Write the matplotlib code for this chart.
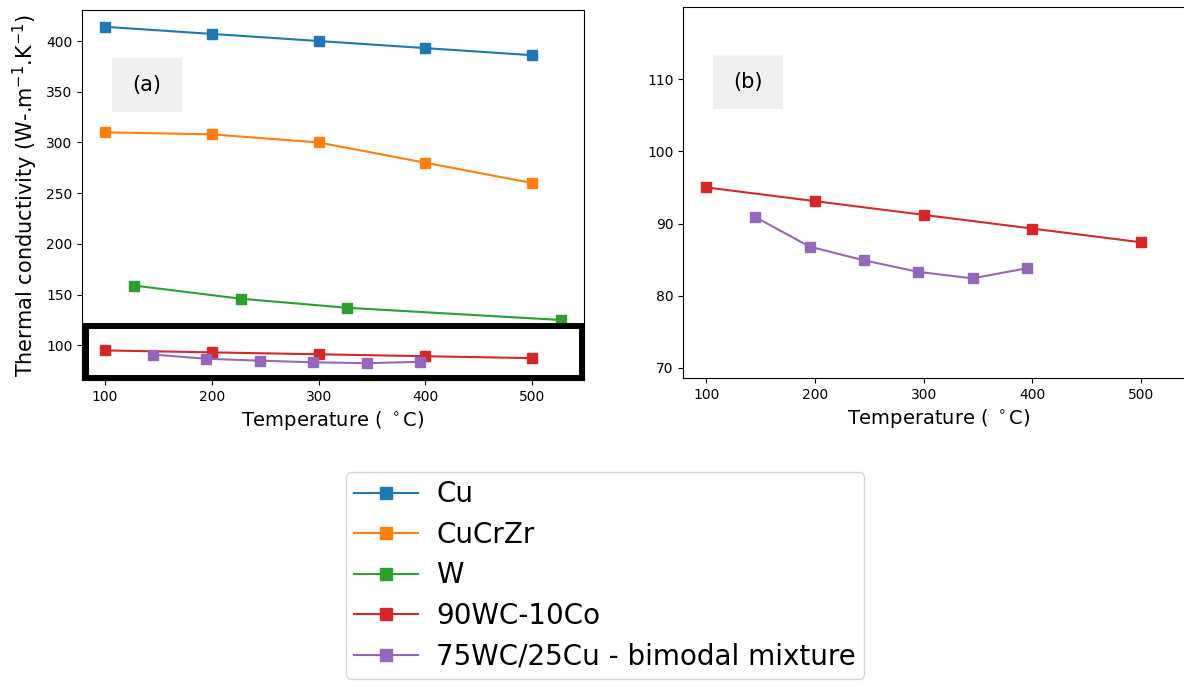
import matplotlib
matplotlib.use("Agg")
import matplotlib.pyplot as plt
from matplotlib.patches import Rectangle

# temperatures (deg C) and thermal conductivity (W/m/K)
t_cu = [100, 200, 300, 400, 500]
k_cu = [414, 407, 400, 393, 386]

t_cucrzr = [100, 200, 300, 400, 500]
k_cucrzr = [310, 308, 300, 280, 260]

t_w = [127, 227, 327, 527]
k_w = [159, 146, 137, 125]

t_wcco = [100, 200, 300, 400, 500]
k_wcco = [95.0, 93.1, 91.2, 89.3, 87.4]

t_bimodal = [145, 195, 245, 295, 345, 395]
k_bimodal = [90.9, 86.8, 84.9, 83.3, 82.4, 83.8]

labels = ["Cu", "CuCrZr", "W", "90WC-10Co", "75WC/25Cu - bimodal mixture"]
series = [(t_cu, k_cu), (t_cucrzr, k_cucrzr), (t_w, k_w),
          (t_wcco, k_wcco), (t_bimodal, k_bimodal)]
colors = ["tab:blue", "tab:orange", "tab:green", "tab:red", "tab:purple"]

fig = plt.figure(figsize=(11.84, 6.84), dpi=100)
ax1 = fig.add_axes([0.0693, 0.4444, 0.4239, 0.541])
ax2 = fig.add_axes([0.577, 0.4474, 0.431, 0.5424])

lines = []
for (t, k), lab, c in zip(series, labels, colors):
    ln, = ax1.plot(t, k, marker="s", color=c, label=lab, markersize=6.5)
    ax2.plot(t, k, marker="s", color=c, markersize=6.5)
    lines.append(ln)

xlim = ax1.get_xlim()
ax2.set_xlim(xlim)
ax2.set_ylim(68.6, 120)
ax2.set_yticks([70, 80, 90, 100, 110])

for ax in (ax1, ax2):
    ax.set_xticks([100, 200, 300, 400, 500])
    ax.tick_params(labelsize=10)
    ax.set_xlabel("Temperature ( $^\\circ$C)", fontsize=14)

ax1.set_ylabel("Thermal conductivity (W-.m$^{-1}$.K$^{-1}$)", fontsize=15)

# panel tags
for ax, tag, x0, xc, w in [(ax1, "(a)", 0.0598, 0.129, 0.139),
                           (ax2, "(b)", 0.058, 0.127, 0.137)]:
    ax.add_patch(Rectangle((x0, 0.724), w, 0.146, transform=ax.transAxes,
                           facecolor="#f0f0f0", edgecolor="none", zorder=1))
    ax.text(xc, 0.797, tag, transform=ax.transAxes, fontsize=15,
            ha="center", va="center", zorder=2)

# highlight box around the low-conductivity region
fig.patches.append(Rectangle((0.0726, 0.4474), 0.419, 0.076,
                             transform=fig.transFigure, fill=False,
                             edgecolor="black", linewidth=4.3, zorder=5))

fig.legend(lines, labels, loc="upper center",
           bbox_to_anchor=(605 / 1184, 1 - 472 / 684), borderaxespad=0,
           fontsize=20, labelspacing=0.45, handlelength=2.3, markerscale=1.4,
           borderpad=0.3, handletextpad=0.65)

fig.savefig("out.png", dpi=100)
